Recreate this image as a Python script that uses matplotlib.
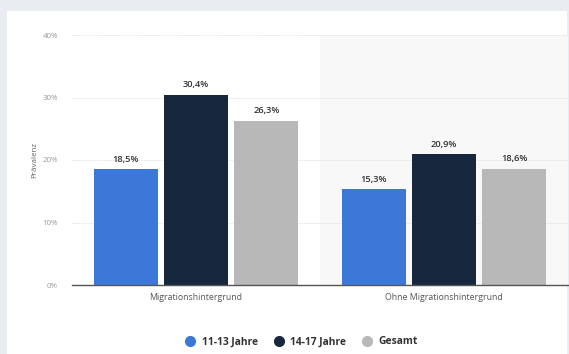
import matplotlib
matplotlib.use("Agg")
import matplotlib.pyplot as plt
from matplotlib.patches import Rectangle
from matplotlib.lines import Line2D
import numpy as np

plt.rcParams['font.family'] = ['Open Sans', 'DejaVu Sans']

categories = ["Migrationshintergrund", "Ohne Migrationshintergrund"]
series_names = ["11-13 Jahre", "14-17 Jahre", "Gesamt"]
values_11_13 = [18.5, 15.3]
values_14_17 = [30.4, 20.9]
values_gesamt = [26.3, 18.6]
yticks = [0, 10, 20, 30, 40]
ytick_labels = ["0%", "10%", "20%", "30%", "40%"]

colors = ["#3b78d8", "#17283e", "#b8b8b8"]
series = [values_11_13, values_14_17, values_gesamt]

fig = plt.figure(figsize=(5.69, 3.54), dpi=100)
fig.patch.set_facecolor("#e9edf1")

# white card behind the chart
card = Rectangle((7 / 569, 0), 560 / 569, (354 - 11) / 354,
                 transform=fig.transFigure, facecolor="white",
                 edgecolor="none", zorder=-10)
fig.patches.append(card)

ax = fig.add_axes([72 / 569, 69 / 354, 496 / 569, 250 / 354])
ax.set_zorder(1)
ax.set_facecolor("none")

x = np.arange(len(categories))
width = 0.258
step = 0.284

# light shading behind the second category
ax.axvspan(0.5, 1.5, color="#f8f8f8", zorder=0, lw=0)

for i, (vals, c) in enumerate(zip(series, colors)):
    pos = x + (i - 1) * step
    ax.bar(pos, vals, width=width, color=c, zorder=3, label=series_names[i])
    for px, v in zip(pos, vals):
        ax.text(px, v + 0.9, f"{v:.1f}%".replace(".", ","), ha="center",
                va="bottom", fontsize=6.7, color="#333333",
                fontweight="semibold", zorder=4)

ax.set_xlim(-0.5, 1.5)
ax.set_ylim(0, 40)
ax.set_yticks(yticks)
ax.set_yticklabels(ytick_labels)
ax.set_xticks(x)
ax.set_xticklabels(categories)

ax.grid(axis="y", color="#dcdcdc", linestyle=(0, (1, 1)), linewidth=0.6, zorder=1)
ax.set_axisbelow(True)

for s in ["top", "right", "left"]:
    ax.spines[s].set_visible(False)
ax.spines["bottom"].set_color("#555555")
ax.spines["bottom"].set_linewidth(1.0)
ax.spines["bottom"].set_zorder(5)

ax.tick_params(axis="y", length=0, pad=10, labelsize=5.7, labelcolor="#999999")
ax.tick_params(axis="x", length=0, pad=6, labelsize=6.3, labelcolor="#555555")

ax.set_ylabel("Prävalenz", fontsize=5.8, color="#666666", labelpad=3)

handles = [Line2D([0], [0], marker="o", linestyle="none", markersize=7,
                  markerfacecolor=c, markeredgecolor=c) for c in colors]
leg = fig.legend(handles, series_names, loc="center",
                 bbox_to_anchor=(299 / 569, 1 - 342 / 354), ncol=3,
                 frameon=False, handletextpad=0.15, columnspacing=1.0,
                 prop={"size": 7.4, "weight": "bold"})
for t in leg.get_texts():
    t.set_color("#333333")

fig.savefig("out.png", dpi=100, facecolor=fig.get_facecolor())
